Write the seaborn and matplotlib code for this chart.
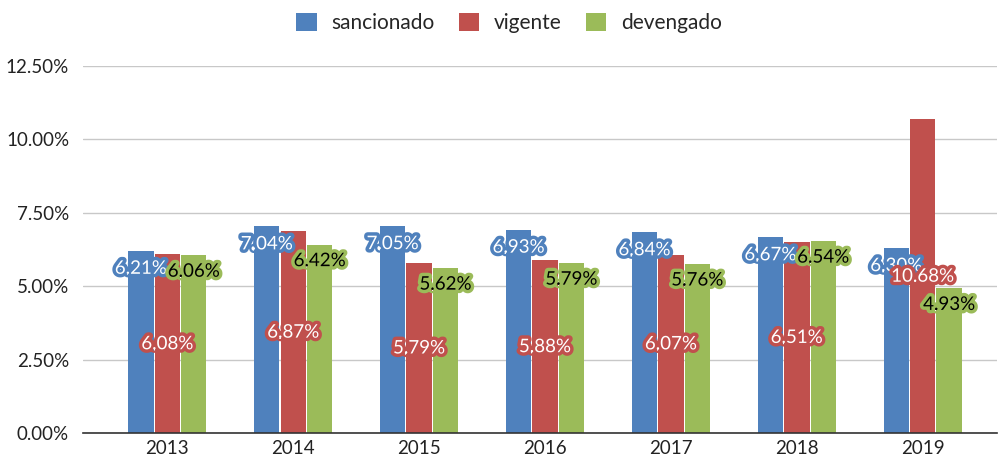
import numpy as np
import pandas as pd
import matplotlib
matplotlib.use("Agg")
import matplotlib.pyplot as plt
import matplotlib.patheffects as pe
import seaborn as sns

# Values
years = ["2013", "2014", "2015", "2016", "2017", "2018", "2019"]
sancionado = [6.21, 7.04, 7.05, 6.93, 6.84, 6.67, 6.30]
vigente = [6.08, 6.87, 5.79, 5.88, 6.07, 6.51, 10.68]
devengado = [6.06, 6.42, 5.62, 5.79, 5.76, 6.54, 4.93]
series = ["sancionado", "vigente", "devengado"]
colors = ["#4F81BD", "#C0504D", "#9BBB59"]

df = pd.DataFrame({
    "year": years * 3,
    "value": sancionado + vigente + devengado,
    "serie": [s for s in series for _ in years],
})

sns.set_style("white")
plt.rcParams["font.family"] = ["Lato", "DejaVu Sans"]

fig = plt.figure(figsize=(9.98, 4.63), dpi=100)
ax = fig.add_axes([83 / 998, 1 - 433 / 463, (997 - 83) / 998, (433 - 66) / 463])

sns.barplot(data=df, x="year", y="value", hue="serie", palette=colors,
            width=0.63, gap=0.04, ax=ax, saturation=1, edgecolor="none")

ax.set_ylim(0, 12.5)
ax.set_xlim(-0.67, 6.59)
ax.set_yticks(np.arange(0, 12.51, 2.5))
ax.set_yticklabels([f"{v:.2f}%" for v in np.arange(0, 12.51, 2.5)], fontsize=13.5, color="#222222")
ax.tick_params(axis="x", labelsize=13.5, colors="#222222", length=0, pad=5)
ax.tick_params(axis="y", length=0, pad=10)
ax.set_xlabel("")
ax.set_ylabel("")
ax.grid(axis="y", color="#c8c8c8", linewidth=1)
ax.set_axisbelow(True)
for s in ["left", "right", "top"]:
    ax.spines[s].set_visible(False)
ax.spines["bottom"].set_color("#333333")
ax.spines["bottom"].set_linewidth(1.2)

# data labels
for i, cont in enumerate(ax.containers[:3]):
    for bar in cont:
        h = bar.get_height()
        cx = bar.get_x() + bar.get_width() / 2
        txt = f"{h:.2f}%"
        if i == 0:
            y, fc = h - 0.6, "white"
        elif i == 1:
            y, fc = h / 2, "white"
        else:
            y, fc = h - 0.55, "black"
        ax.text(cx, y, txt, ha="center", va="center", fontsize=13.5, color=fc,
                path_effects=[pe.withStroke(linewidth=5, foreground=colors[i])])

handles, labels = ax.get_legend_handles_labels()
ax.legend(handles, labels, loc="center", bbox_to_anchor=(0.466, 1 + (66 - 23) / 367),
          ncol=3, frameon=False, fontsize=15, handlelength=1.0, handleheight=1.0,
          columnspacing=1.15, handletextpad=0.7)

fig.savefig("out.png", dpi=100)
